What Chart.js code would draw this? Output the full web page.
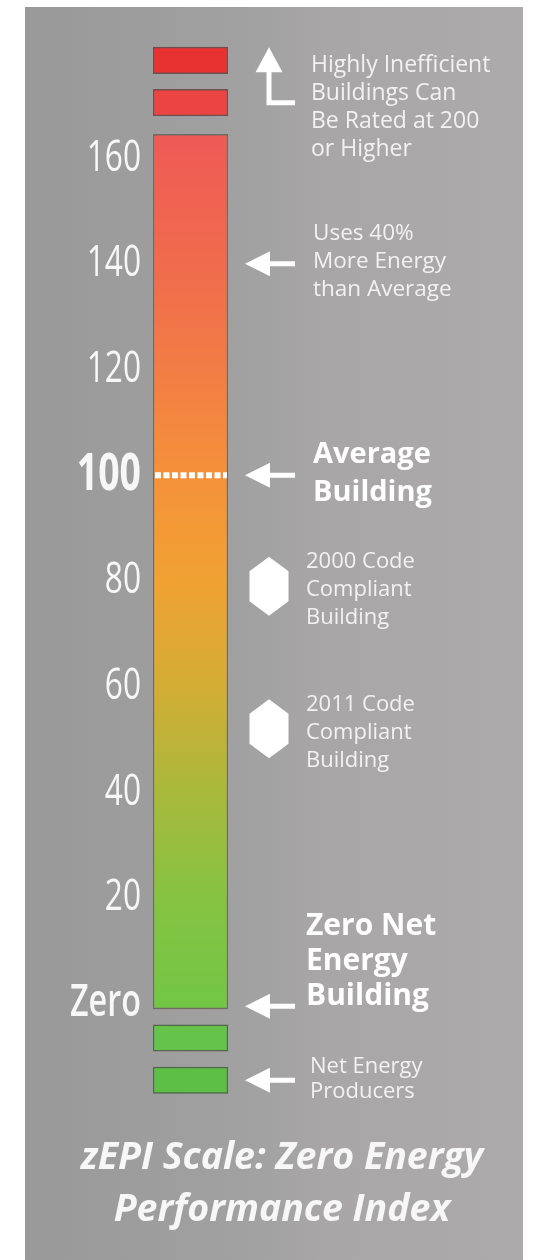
<!DOCTYPE html>
<html><head><meta charset="utf-8">
<script src="https://cdn.jsdelivr.net/npm/chart.js@4.4.1/dist/chart.umd.min.js"></script>
<style>
html,body{margin:0;padding:0;background:#fff;}
body{width:533px;height:1260px;position:relative;overflow:hidden;font-family:'Open Sans',sans-serif;}
#panel{position:absolute;left:25px;top:7px;width:498px;height:1253px;background:linear-gradient(to right,#999999 0%,#a0a0a0 40%,#a8a6a6 60%,#acaaaa 100%);}
#wrap{position:absolute;left:0;top:0;width:533px;height:1260px;}
.note{position:absolute;color:#f2f2f2;font-size:22px;line-height:28px;white-space:nowrap;}
.big{position:absolute;color:#fff;font-weight:700;white-space:nowrap;}
#title{position:absolute;left:40px;width:484px;top:1129px;text-align:center;font-weight:700;font-style:italic;font-size:37.5px;line-height:52px;color:#f7f7f7;}
</style></head>
<body>
<div id="panel"></div>
<div id="wrap"><canvas id="c"></canvas></div>
<div class="note" style="left:311px;top:49px;font-size:23px;">Highly Inefficient<br>Buildings Can<br>Be Rated at 200<br>or Higher</div>
<div class="note" style="left:313px;top:218px;font-size:22.5px;">Uses 40%<br>More Energy<br>than Average</div>
<div class="big" style="left:313px;top:433px;font-size:29px;line-height:38px;">Average<br>Building</div>
<div class="note" style="left:306px;top:545px;">2000 Code<br>Compliant<br>Building</div>
<div class="note" style="left:306px;top:688px;">2011 Code<br>Compliant<br>Building</div>
<div class="big" style="left:306px;top:906px;font-size:30px;line-height:35px;">Zero Net<br>Energy<br>Building</div>
<div class="note" style="left:310px;top:1052px;line-height:25px;">Net Energy<br>Producers</div>
<div id="title">zEPI Scale: Zero Energy<br>Performance Index</div>
<script>
// ---- data ----
const categories = ['zEPI'];
const bandLow  = [176, 168, -1, -9, -17];
const bandHigh = [181, 173, 164.5, -4, -12];
const tickValues = [0, 20, 40, 60, 80, 100, 120, 140, 160];
const tickLabels = ['Zero', '20', '40', '60', '80', '100', '120', '140', '160'];
const averageValue = 100;
const leftArrowValues = [140, 100, -0.5, -14.5];
const upArrowValues = [170, 181];
const hexagonValues = [79, 52];
const gradientValues = [165, 140, 120, 100, 80, 60, 40, 20, 0];
const gradientColors = ['#ef5a55', '#f06b4d', '#f27d45', '#f5913a', '#f0a232', '#d3ad35', '#a9b93b', '#86c342', '#73c645'];

const bandColors = ['#e83232', '#ec4442', null, '#65c24a', '#5ebf47'];
const bandBorders = ['rgba(90,45,45,0.7)', 'rgba(90,45,45,0.7)', 'rgba(80,70,60,0.6)', 'rgba(45,80,40,0.7)', 'rgba(45,80,40,0.7)'];

function mainGradient(ctx) {
  const chart = ctx.chart;
  if (!chart.chartArea) return gradientColors[3];
  const y = chart.scales.y;
  const top = y.getPixelForValue(bandHigh[2]);
  const bot = y.getPixelForValue(bandLow[2]);
  const g = chart.ctx.createLinearGradient(0, top, 0, bot);
  gradientValues.forEach((v, i) => {
    const p = (y.getPixelForValue(v) - top) / (bot - top);
    g.addColorStop(Math.min(1, Math.max(0, p)), gradientColors[i]);
  });
  return g;
}

const datasets = bandLow.map((lo, i) => ({
  data: [[lo, bandHigh[i]]],
  backgroundColor: bandColors[i] || mainGradient,
  borderColor: bandBorders[i],
  borderWidth: 1.5,
  borderSkipped: false,
  grouped: false,
  barPercentage: 1,
  categoryPercentage: 1
}));

const annot = {
  id: 'annot',
  afterDatasetsDraw(chart) {
    const ctx = chart.ctx, y = chart.scales.y;
    const bar = chart.getDatasetMeta(2).data[0];
    const L = bar.x - bar.width / 2, R = bar.x + bar.width / 2;
    ctx.save();
    const py = y.getPixelForValue(averageValue);
    ctx.strokeStyle = '#ffffff';
    ctx.lineWidth = 6;
    ctx.setLineDash([6, 2.5]);
    ctx.beginPath(); ctx.moveTo(L + 2, py); ctx.lineTo(R - 1, py); ctx.stroke();
    ctx.setLineDash([]);
    ctx.fillStyle = '#ffffff';
    const tip = 245;
    leftArrowValues.forEach(v => {
      const p = y.getPixelForValue(v);
      ctx.beginPath();
      ctx.moveTo(tip, p);
      ctx.lineTo(tip + 25, p - 12.5);
      ctx.lineTo(tip + 25, p - 2.5);
      ctx.lineTo(tip + 50, p - 2.5);
      ctx.lineTo(tip + 50, p + 2.5);
      ctx.lineTo(tip + 25, p + 2.5);
      ctx.lineTo(tip + 25, p + 12.5);
      ctx.closePath();
      ctx.fill();
    });
    const cx = 269;
    const t = y.getPixelForValue(upArrowValues[1]);
    const c = y.getPixelForValue(upArrowValues[0]);
    ctx.beginPath();
    ctx.moveTo(cx, t);
    ctx.lineTo(cx + 13.5, t + 25);
    ctx.lineTo(cx + 2.5, t + 25);
    ctx.lineTo(cx + 2.5, c - 5);
    ctx.lineTo(cx + 26, c - 5);
    ctx.lineTo(cx + 26, c);
    ctx.lineTo(cx - 2.5, c);
    ctx.lineTo(cx - 2.5, t + 25);
    ctx.lineTo(cx - 13.5, t + 25);
    ctx.closePath();
    ctx.fill();
    hexagonValues.forEach(v => {
      const p = y.getPixelForValue(v);
      ctx.beginPath();
      ctx.moveTo(cx, p - 29.5);
      ctx.lineTo(cx + 19.5, p - 15);
      ctx.lineTo(cx + 19.5, p + 15);
      ctx.lineTo(cx, p + 29.5);
      ctx.lineTo(cx - 19.5, p + 15);
      ctx.lineTo(cx - 19.5, p - 15);
      ctx.closePath();
      ctx.fill();
    });
    ctx.restore();
  }
};

const tickFamily = "'Open Sans',sans-serif";
const labelSqueeze = 0.72;

new Chart(document.getElementById('c'), {
  type: 'bar',
  data: { labels: categories, datasets },
  options: {
    responsive: true,
    maintainAspectRatio: false,
    animation: false,
    events: [],
    layout: { padding: { left: 0, right: 305, top: 26, bottom: 45 } },
    plugins: { legend: { display: false }, tooltip: { enabled: false }, title: { display: false } },
    scales: {
      x: { display: false },
      y: {
        min: -40, max: 185,
        grid: { display: false, drawTicks: false },
        border: { display: false },
        afterBuildTicks: s => { s.ticks = tickValues.map(v => ({ value: v })); },
        afterFit: s => { s.width = 153; s.paddingTop = 0; s.paddingBottom = 0; },
        afterUpdate: s => {
          if (s._squeezed) return;
          const orig = s.drawLabels;
          s.drawLabels = function (area) {
            const ctx = this.ctx;
            const ax = this.right - this.options.ticks.padding;
            ctx.save();
            ctx.translate(ax, 0); ctx.scale(labelSqueeze, 1); ctx.translate(-ax, 0);
            orig.call(this, area);
            ctx.restore();
          };
          s._squeezed = true;
        },
        ticks: {
          padding: 12,
          color: '#f7f7f7',
          autoSkip: false,
          callback: v => { const i = tickValues.indexOf(v); return i >= 0 ? tickLabels[i] : ''; },
          font: c => {
            const v = c.tick ? c.tick.value : null;
            if (v === 100) return { family: tickFamily, size: 52, weight: 'bold' };
            if (v === 0) return { family: tickFamily, size: 45, weight: '600' };
            return { family: tickFamily, size: 44, weight: 'normal' };
          }
        }
      }
    }
  },
  plugins: [annot]
});
</script>
</body></html>
